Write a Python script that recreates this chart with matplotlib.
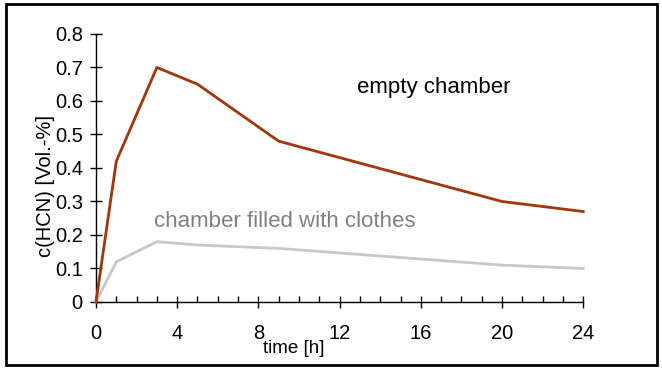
import matplotlib
matplotlib.use("Agg")
import matplotlib.pyplot as plt
from matplotlib.patches import Rectangle

# Data
hours = [0, 1, 3, 5, 9, 20, 24]
empty_chamber = [0, 0.42, 0.70, 0.65, 0.48, 0.30, 0.27]
filled_chamber = [0, 0.12, 0.18, 0.17, 0.16, 0.11, 0.10]
x_ticks = [0, 4, 8, 12, 16, 20, 24]
y_ticks = [0, 0.1, 0.2, 0.3, 0.4, 0.5, 0.6, 0.7, 0.8]
y_tick_labels = ["0", "0.1", "0.2", "0.3", "0.4", "0.5", "0.6", "0.7", "0.8"]

plt.rcParams["font.family"] = ["Liberation Sans", "DejaVu Sans"]

fig = plt.figure(figsize=(6.62, 3.69), dpi=100)
ax = fig.add_axes([0.145, 0.1816, 0.736, 0.7264])

# Lines
ax.plot(hours, empty_chamber, color="#a0360a", lw=2, clip_on=False, zorder=3)
ax.plot(hours, filled_chamber, color="#c8c8c8", lw=2, clip_on=False, zorder=2)

# Annotations
ax.text(12.85, 0.64, "empty chamber", fontsize=16, color="black", va="center", ha="left")
ax.text(2.85, 0.24, "chamber filled with clothes", fontsize=16, color="#808080",
        va="center", ha="left")

# Axes
ax.set_xlim(0, 24)
ax.set_ylim(0, 0.8)
ax.set_xticks(x_ticks)
ax.set_xticks(range(0, 25), minor=True)
ax.set_yticks(y_ticks)
ax.set_yticklabels(y_tick_labels)
for s in ["top", "right"]:
    ax.spines[s].set_visible(False)
for s in ["left", "bottom"]:
    ax.spines[s].set_linewidth(1)
ax.tick_params(axis="x", which="major", direction="inout", length=9, width=1,
               labelsize=14.5, pad=11)
ax.tick_params(axis="x", which="minor", direction="in", length=4, width=1)
ax.tick_params(axis="y", which="major", direction="inout", length=9, width=1,
               labelsize=14.5, pad=5)

# Axis labels placed by hand
fig.text(0.443, 0.056, "time [h]", fontsize=13.5, ha="center", va="center")
fig.text(0.068, 0.495, "c(HCN) [Vol.-%]", fontsize=14.5, ha="center", va="center",
         rotation=90)

# Frame around the whole figure
fig.patches.append(Rectangle((0.009, 0.011), 0.983, 0.978, transform=fig.transFigure,
                             fill=False, edgecolor="black", linewidth=2))

fig.savefig("out.png", dpi=100)
